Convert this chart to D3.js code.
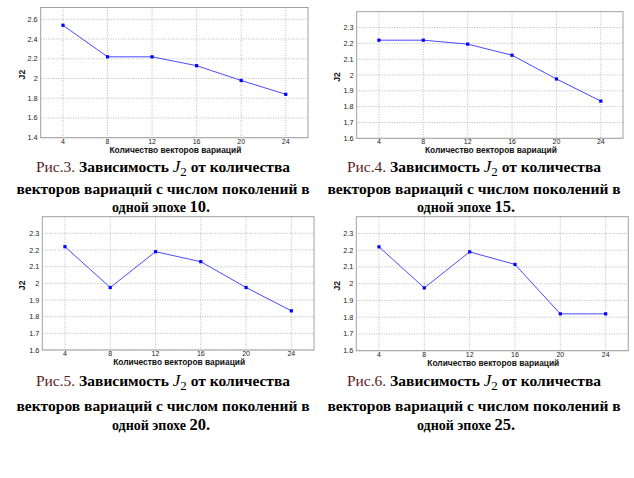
<!DOCTYPE html>
<html>
<head>
<meta charset="utf-8">
<script src="https://cdn.jsdelivr.net/npm/d3@7"></script>
<style>
  body { margin: 0; background: #fff; }
  svg { display: block; }
</style>
</head>
<body>
<svg id="fig" width="634" height="478"></svg>
<script>
// values
var vectors = [4, 8, 12, 16, 20, 24]
var j2Gen10 = [2.54, 2.22, 2.22, 2.13, 1.98, 1.84]
var j2Gen15 = [2.22, 2.22, 2.195, 2.125, 1.975, 1.835]
var j2Gen20 = [2.22, 1.975, 2.19, 2.13, 1.975, 1.835]
var j2Gen25 = [2.22, 1.975, 2.19, 2.115, 1.82, 1.82]
var yTicksWide = [1.4, 1.6, 1.8, 2.0, 2.2, 2.4, 2.6]
var yTicksNarrow = [1.6, 1.7, 1.8, 1.9, 2.0, 2.1, 2.2, 2.3]
var figNums = ["Рис.3.", "Рис.4.", "Рис.5.", "Рис.6."]
var epochGens = ["10", "15", "20", "25"]

var svg = d3.select("#fig")

var panels = [
  { vals: j2Gen10, ticks: yTicksWide, ydom: [1.4, 2.72], box: [40.7, 7.5, 308, 137.7], ylab: 21.7 },
  { vals: j2Gen15, ticks: yTicksNarrow, ydom: [1.6, 2.4], box: [356.7, 11.7, 623, 138.3], ylab: 336.7 },
  { vals: j2Gen20, ticks: yTicksNarrow, ydom: [1.6, 2.4], box: [42.3, 216.7, 314, 350], ylab: 21.7 },
  { vals: j2Gen25, ticks: yTicksNarrow, ydom: [1.6, 2.4], box: [356.3, 216.7, 628.3, 350.7], ylab: 336.7 }
]

var captions = [
  { cx: 163, cx3: 161, ys: [172, 194, 212] },
  { cx: 474, cx3: 466, ys: [172, 194, 212] },
  { cx: 163, cx3: 161, ys: [386, 411, 430] },
  { cx: 474, cx3: 466, ys: [386, 411, 430] }
]

panels.forEach(function (p, i) {
  var l = p.box[0], t = p.box[1], r = p.box[2], b = p.box[3]

  var x = d3.scaleLinear().domain([2, 26]).range([l, r])
  var y = d3.scaleLinear().domain(p.ydom).range([b, t])

  var g = svg.append("g")

  // grid
  g.selectAll(".gx").data(vectors).enter().append("line")
    .attr("x1", d => x(d)).attr("x2", d => x(d))
    .attr("y1", t).attr("y2", b)
    .attr("stroke", "#a8a8a8").attr("stroke-width", 0.8)
    .attr("stroke-dasharray", "1,1.5")
  g.selectAll(".gy").data(p.ticks).enter().append("line")
    .attr("x1", l).attr("x2", r)
    .attr("y1", d => y(d)).attr("y2", d => y(d))
    .attr("stroke", "#a8a8a8").attr("stroke-width", 0.8)
    .attr("stroke-dasharray", "1,1.5")

  g.append("rect")
    .attr("x", l).attr("y", t)
    .attr("width", r - l).attr("height", b - t)
    .attr("fill", "none").attr("stroke", "#a0a0a0").attr("stroke-width", 1)

  // tick labels
  g.selectAll(".tx").data(vectors).enter().append("text")
    .attr("x", d => x(d)).attr("y", b + 6)
    .attr("text-anchor", "middle")
    .style("font-family", "Liberation Sans, Arial, sans-serif")
    .style("font-size", "7px").style("fill", "#222")
    .text(d => d)
  g.selectAll(".ty").data(p.ticks).enter().append("text")
    .attr("x", l - 3).attr("y", d => y(d) + 2.5)
    .attr("text-anchor", "end")
    .style("font-family", "Liberation Sans, Arial, sans-serif")
    .style("font-size", "7.3px").style("fill", "#222")
    .text(d => +d.toFixed(1))

  g.append("text")
    .attr("x", (l + r) / 2 + 1).attr("y", b + 15)
    .attr("text-anchor", "middle")
    .style("font-family", "Liberation Sans, Arial, sans-serif")
    .style("font-size", "8.4px").style("font-weight", "bold").style("fill", "#111")
    .text("Количество векторов вариаций")

  g.append("text")
    .attr("transform", "translate(" + (p.ylab + 3) + "," + ((t + b) / 2 + 2) + ") rotate(-90)")
    .attr("text-anchor", "middle")
    .style("font-family", "Liberation Sans, Arial, sans-serif")
    .style("font-size", "8.6px").style("font-weight", "bold").style("fill", "#111")
    .text("J2")

  var pts = vectors.map((v, k) => [v, p.vals[k]])

  g.append("path")
    .datum(pts)
    .attr("fill", "none").attr("stroke", "#4a4aff").attr("stroke-width", 1)
    .attr("d", d3.line().x(d => x(d[0])).y(d => y(d[1])))

  g.selectAll(".pt").data(pts).enter().append("rect")
    .attr("x", d => x(d[0]) - 1.6).attr("y", d => y(d[1]) - 1.6)
    .attr("width", 3.2).attr("height", 3.2)
    .attr("fill", "#0000ff")

  // caption
  var c = captions[i]
  var cap = svg.append("g")
    .style("font-family", "Liberation Serif, Times New Roman, serif")
    .style("font-size", "15.5px").style("fill", "#000")

  var t1 = cap.append("text").attr("x", c.cx).attr("y", c.ys[0]).attr("text-anchor", "middle")
  t1.append("tspan").style("fill", "#5a1c1c").text(figNums[i])
  t1.append("tspan").style("font-weight", "bold").text(" Зависимость ")
  t1.append("tspan").style("font-style", "italic").style("font-size", "17px").text("J")
  t1.append("tspan").attr("dy", 4).style("font-size", "13px").text("2")
  t1.append("tspan").attr("dy", -4).style("font-weight", "bold").text(" от количества")

  cap.append("text").attr("x", c.cx).attr("y", c.ys[1]).attr("text-anchor", "middle")
    .style("font-weight", "bold")
    .text("векторов вариаций с числом поколений в")

  var t3 = cap.append("text").attr("x", c.cx3).attr("y", c.ys[2]).attr("text-anchor", "middle")
    .style("font-weight", "bold")
  t3.append("tspan").style("font-size", "14px").text("одной эпохе ")
  t3.append("tspan").style("font-size", "16.5px").text(epochGens[i] + ".")
})
</script>
</body>
</html>
